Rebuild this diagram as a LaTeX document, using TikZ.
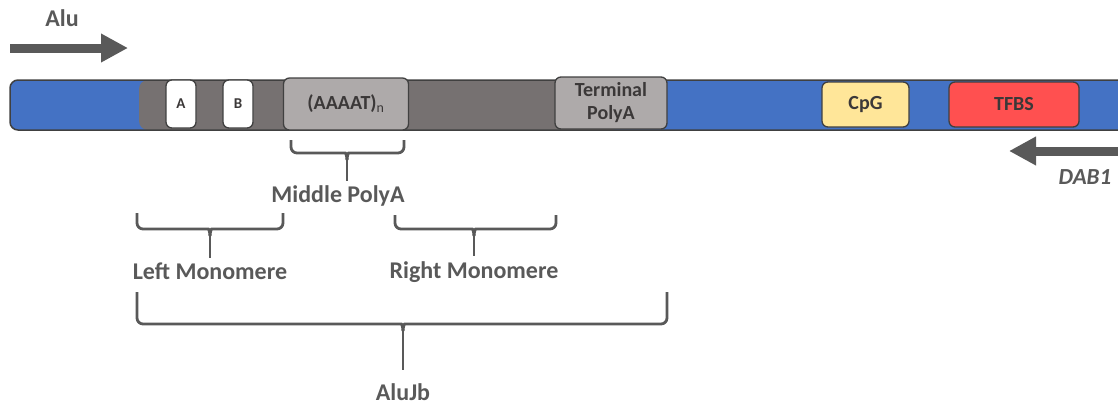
\documentclass[tikz,border=0pt]{standalone}
\usepackage{fontspec}
\setmainfont{Carlito}
\usetikzlibrary{arrows.meta}
\definecolor{barblue}{HTML}{4472C4}
\definecolor{alugray}{HTML}{767171}
\definecolor{boxgray}{HTML}{AEAAAA}
\definecolor{cpgyellow}{HTML}{FFE699}
\definecolor{tfbsred}{HTML}{FF5050}
\definecolor{txtgray}{HTML}{595959}
\definecolor{edgegray}{HTML}{404040}
\definecolor{boxtxt}{HTML}{3B3838}
\tikzset{
  elem/.style={draw=edgegray, line width=1.3pt, rounded corners=6pt, inner sep=0pt,
    font=\bfseries\fontsize{20}{25}\selectfont, text=boxtxt, align=center},
  lbl/.style={font=\bfseries\fontsize{24}{28}\selectfont, text=txtgray, inner sep=0pt},
  brace/.style={draw=txtgray, line width=2.8pt, rounded corners=6pt, line join=round},
  bigarrow/.style={draw=txtgray, line width=9pt, -{Triangle[length=27pt,width=27pt]}}
}
\newcommand{\mybrace}[5]{% x1, x2, top, h, cx
  \draw[brace] (#1,#3) |- (#5-7,#4) .. controls (#5-2,#4) and (#5,#4+2) .. (#5,#4+7);
  \draw[brace] (#2,#3) |- (#5+7,#4) .. controls (#5+2,#4) and (#5,#4+2) .. (#5,#4+7);
}
\begin{document}
\begin{tikzpicture}[x=1pt,y=-1pt]
\useasboundingbox (0,0) rectangle (1118,408);
\clip (0,0) rectangle (1118,408);
% main bar
\fill[barblue, rounded corners=8pt] (10,80) rectangle (1150,130);
\fill[alugray, rounded corners=9pt] (139,80) rectangle (620,130);
\draw[edgegray, line width=1.5pt, rounded corners=8pt] (10,80) rectangle (1150,130);
% element boxes
\node[elem, fill=white, minimum width=30pt, minimum height=48pt,
      font=\bfseries\fontsize{15}{18}\selectfont] (A) at (181,104) {A};
\node[elem, fill=white, minimum width=30pt, minimum height=48pt,
      font=\bfseries\fontsize{15}{18}\selectfont] (B) at (238,104) {B};
\node[elem, fill=boxgray, minimum width=125pt, minimum height=52pt] (polyn) at (346,104) {(AAAAT)$_{\mathrm{n}}$};
\node[elem, fill=boxgray, minimum width=112pt, minimum height=52pt] (term) at (611,103) {Terminal\\[-2pt]PolyA};
\node[elem, fill=cpgyellow, minimum width=87pt, minimum height=45pt] (cpg) at (865.5,104.5) {CpG};
\node[elem, fill=tfbsred, minimum width=130pt, minimum height=45pt] (tfbs) at (1014,104.5) {TFBS};
% arrows
\node[lbl] (alu) at (62,18) {Alu};
\coordinate (aluS) at (10,48);
\coordinate (aluE) at (128,48);
\draw[bigarrow] (aluS) -- (aluE);
\node[lbl, font=\bfseries\itshape\fontsize{23}{28}\selectfont] (dab) at (1085,177) {DAB1};
\coordinate (dabS) at (1125,151);
\coordinate (dabE) at (1009,151);
\draw[bigarrow] (dabS) -- (dabE);
% braces and labels
\node[lbl] (mid) at (338,196) {Middle PolyA};
\mybrace{291}{404}{140}{153}{347}
\draw[brace] (347,159) -- (347,181);
\node[lbl] (left) at (210,271) {Left Monomere};
\mybrace{137}{283}{213}{229}{210}
\draw[brace] (210,235) -- (210,258);
\node[lbl] (right) at (474,272) {Right Monomere};
\mybrace{395}{556}{215}{229}{474}
\draw[brace] (474,235) -- (474,256);
\node[lbl] (alujb) at (403,392) {AluJb};
\mybrace{137}{667}{292}{324}{403}
\draw[brace] (403,330) -- (403,370);
\end{tikzpicture}
\end{document}
